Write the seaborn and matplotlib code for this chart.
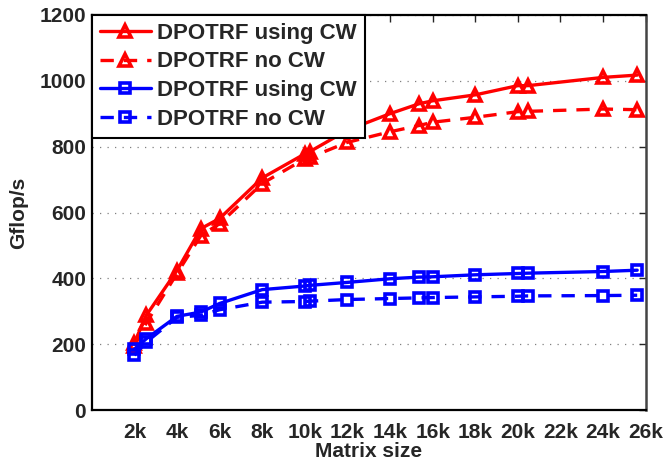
import pandas as pd
import numpy as np
import matplotlib.pyplot as plt
import seaborn as sns

# --- data ---
sizes = [2000, 2560, 4000, 5120, 6000, 8000, 10000, 10240, 12000,
         14000, 15360, 16000, 18000, 20000, 20480, 24000, 25600]

red_cw = [205, 288, 424, 551, 582, 705, 778, 785, 850,
          900, 930, 939, 957, 985, 985, 1010, 1017]
red_nocw = [195, 265, 415, 530, 566, 688, 763, 767, 813,
            845, 864, 874, 889, 906, 907, 914, 912]
blue_cw = [185, 217, 285, 298, 324, 366, 377, 379, 388,
           399, 404, 405, 411, 415, 416, 421, 425]
blue_nocw = [167, 207, 282, 288, 305, 328, 330, 331, 336,
             339, 341, 342, 344, 346, 347, 348, 349]

labels = ["DPOTRF using CW", "DPOTRF no CW", "DPOTRF using CW", "DPOTRF no CW"]
tick_vals = [2000 * i for i in range(1, 14)]
tick_labels = [f"{2 * i}k" for i in range(1, 14)]

sns.set_style("white")
plt.rcParams['font.family'] = ['Liberation Sans', 'DejaVu Sans']
plt.rcParams['font.weight'] = 'bold'

fig, ax = plt.subplots(figsize=(6.65, 4.62), dpi=100)
fig.subplots_adjust(left=0.138, right=0.971, bottom=0.112, top=0.968)

series = [
    (red_cw, "red", "-", "^", 9),
    (red_nocw, "red", (0, (4, 3)), "^", 9),
    (blue_cw, "blue", "-", "s", 7),
    (blue_nocw, "blue", (0, (4, 3)), "s", 7),
]
for (vals, col, ls, mk, ms), lab in zip(series, labels):
    df = pd.DataFrame({"size": sizes, "gflops": vals})
    sns.lineplot(data=df, x="size", y="gflops", ax=ax, color=col,
                 linestyle=ls, marker=mk, markersize=ms,
                 markerfacecolor="none", markeredgecolor=col,
                 markeredgewidth=2.6, linewidth=2.4, label=lab)

ax.set_xlim(0, 26000)
ax.set_ylim(0, 1200)
ax.set_xticks(tick_vals)
ax.set_xticklabels(tick_labels)
ax.set_yticks(range(0, 1201, 200))

ax.yaxis.grid(True, linestyle=(0, (1, 5)), color="gray", linewidth=0.9)
ax.xaxis.grid(False)
ax.set_axisbelow(True)

ax.tick_params(axis="both", direction="in", length=5, width=1,
               top=True, right=True, labelsize=15)
ax.tick_params(axis="x", pad=9)
ax.tick_params(axis="y", pad=4)
for lab in ax.get_xticklabels() + ax.get_yticklabels():
    lab.set_fontweight("bold")

for side in ["left", "bottom", "top"]:
    ax.spines[side].set_color("black")
    ax.spines[side].set_linewidth(1.6)
ax.spines["right"].set_color("#444444")
ax.spines["right"].set_linewidth(1.8)

ax.set_xlabel("Matrix size", fontsize=15, fontweight="bold", labelpad=0)
ax.set_ylabel("Gflop/s", fontsize=15, fontweight="bold", labelpad=8)

leg = ax.legend(loc="upper left", borderaxespad=0, fontsize=16,
                fancybox=False, framealpha=1, edgecolor="black",
                handlelength=2.3, handletextpad=0.3, labelspacing=0.35,
                borderpad=0.35)
leg.get_frame().set_linewidth(1.5)
for t in leg.get_texts():
    t.set_fontweight("bold")

fig.savefig("out.png", dpi=100)
